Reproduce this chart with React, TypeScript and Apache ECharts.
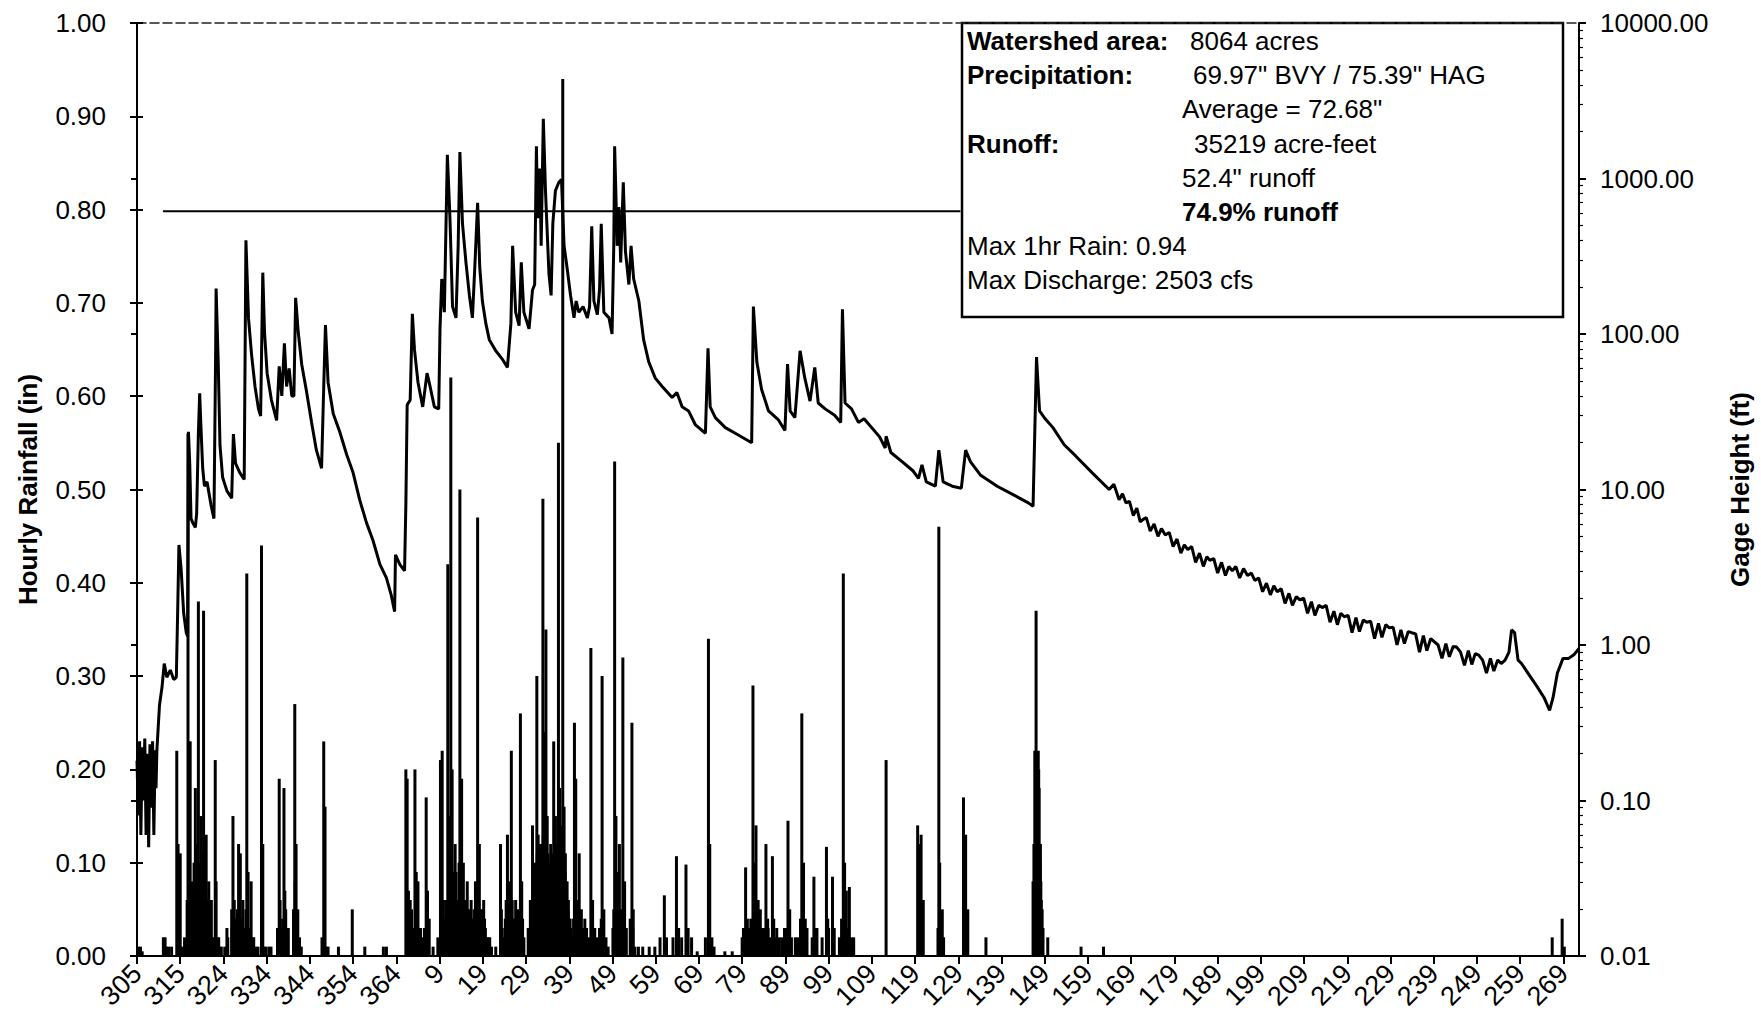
import React, { useEffect, useRef } from "react";
import * as echarts from "echarts";

const FONT = "'Liberation Sans', Arial, sans-serif";

// X tick labels (day of year), one every 10 days from the start of the record
const xLabels = [
  "305", "315", "324", "334", "344", "354", "364", "9", "19", "29", "39", "49",
  "59", "69", "79", "89", "99", "109", "119", "129", "139", "149", "159", "169",
  "179", "189", "199", "209", "219", "229", "239", "249", "259", "269",
];

// Days since start of record for the gage height trace
const gageDay = [
  0.0, 0.3, 0.6, 0.9, 1.2, 1.5, 1.8, 2.1, 2.4, 2.7, 3.0, 3.3, 3.6, 3.9, 4.2, 4.4,
  4.6, 5.2, 5.8, 6.3, 6.9, 7.7, 8.5, 9.1, 9.4, 9.7, 10.2, 10.8, 11.4, 11.7, 11.9,
  12.2, 12.5, 12.9, 13.5, 13.8, 14.2, 14.5, 14.8, 15.2, 15.6, 16.2, 17.1, 17.8,
  18.2, 18.3, 18.8, 19.2, 19.8, 20.8, 21.9, 22.3, 22.8, 23.8, 24.8, 25.2, 25.8,
  26.5, 27.3, 28.1, 28.6, 29.1, 29.5, 30.1, 31.1, 32.3, 32.9, 33.5, 34.1, 34.6,
  35.2, 35.8, 36.3, 36.7, 37.3, 38.1, 39.2, 40.4, 41.5, 42.7, 43.2, 43.6, 44.2,
  45.4, 46.9, 48.5, 50.0, 51.5, 53.1, 54.6, 56.2, 57.7, 58.8, 59.6, 59.8, 60.8,
  61.9, 62.2, 62.5, 63.2, 63.7, 64.2, 65.0, 66.1, 67.1, 67.8, 68.8, 69.8, 70.1,
  70.5, 71.1, 71.8, 72.4, 73.0, 73.8, 74.3, 74.7, 75.3, 76.1, 76.9, 77.6, 78.2,
  78.8, 79.3, 79.9, 80.7, 81.5, 83.0, 84.5, 85.7, 86.5, 86.9, 87.6, 88.4, 88.9,
  89.5, 90.7, 91.5, 92.0, 92.4, 92.7, 93.2, 93.5, 94.0, 94.5, 95.3, 95.8, 96.2,
  96.8, 97.6, 98.2, 98.8, 99.5, 100.3, 101.1, 101.6, 102.2, 103.2, 104.2, 104.7,
  105.2, 105.7, 106.5, 107.0, 107.4, 108.0, 109.2, 109.9, 110.3, 110.5, 111.1,
  111.5, 111.9, 112.5, 113.0, 113.8, 114.3, 114.9, 116.1, 117.2, 118.4, 119.9,
  121.5, 123.8, 124.9, 126.1, 127.6, 129.2, 131.5, 132.1, 132.6, 133.8, 136.1,
  138.4, 142.2, 142.6, 143.4, 144.5, 146.1, 148.4, 149.9, 150.5, 151.1, 152.2,
  153.4, 154.5, 155.7, 156.8, 157.6, 159.2, 161.4, 162.8, 163.2, 163.8, 165.3,
  166.9, 168.2, 171.8, 173.1, 173.3, 174.4, 177.0, 179.5, 180.8, 181.6, 182.6,
  184.7, 185.5, 186.5, 188.6, 190.7, 191.7, 192.8, 195.1, 199.0, 202.9, 206.2,
  207.3, 208.1, 208.8, 210.1, 211.9, 214.5, 217.1, 221.0, 224.9, 226.0, 227.2,
  228.0, 228.8, 229.6, 230.5, 231.3, 232.1, 232.7, 233.5, 234.4, 235.3, 236.2,
  237.0, 237.9, 238.8, 239.7, 240.6, 241.5, 242.3, 243.1, 244.0, 244.9, 245.8,
  246.7, 247.5, 248.2, 249.1, 250.0, 250.9, 251.8, 252.6, 253.4, 254.2, 255.1,
  256.0, 256.9, 257.8, 258.6, 259.5, 260.4, 261.3, 262.2, 263.0, 263.8, 264.7,
  265.6, 266.5, 267.3, 268.2, 269.0, 269.9, 270.8, 271.7, 272.5, 273.4, 274.2,
  275.1, 276.0, 276.9, 277.7, 278.5, 279.3, 280.2, 281.1, 282.0, 282.8, 283.7,
  284.5, 285.4, 286.3, 287.2, 288.0, 288.9, 289.7, 290.6, 291.5, 292.4, 293.2,
  294.1, 294.9, 295.8, 296.7, 297.6, 298.4, 299.3, 300.1, 301.0, 301.9, 302.8,
  303.6, 304.5, 305.3, 306.2, 307.1, 308.0, 308.8, 309.6, 310.4, 311.3, 312.2,
  313.1, 313.9, 314.8, 315.6, 316.5, 317.4, 318.0, 318.7, 319.5, 320.3, 322.1,
  323.9, 325.5, 326.8, 327.6, 328.6, 329.9, 331.2, 332.5, 333.6,
];

// Gage height (ft)
const gageFt = [
  0.18, 0.08, 0.24, 0.06, 0.22, 0.10, 0.25, 0.06, 0.20, 0.05, 0.23, 0.09, 0.24, 0.06, 0.21, 0.12,
  0.21, 0.41, 0.54, 0.76, 0.62, 0.69, 0.60, 0.62, 1.6, 4.4, 3.1, 1.6, 1.2, 1.14, 23.5,
  14.7, 6.5, 6.1, 5.7, 7.0, 23, 41.5, 25, 13.7, 10.5, 11.2, 8.0, 6.5,
  79, 196, 64, 19.2, 12, 9.8, 8.8, 22.7, 14.7, 12.8, 11.6, 400, 126,
  74, 46, 33, 29.7, 248, 103, 56, 37.6, 27.8, 62, 40, 87, 46,
  60, 40, 40, 171, 103, 64, 43, 26.9, 17.9, 13.7, 46, 114, 49,
  30.7, 23.5, 16.8, 12.8, 8.6, 6.1, 4.7, 3.3, 2.7, 2.1, 1.64, 3.8, 3.3,
  3.0, 8.0, 35, 37.6, 135, 79, 49, 34, 56, 46, 34, 33, 108,
  226, 138, 1420, 556, 150, 127, 369, 1480, 512, 289, 177, 127, 289,
  698, 266, 163, 117, 92, 78, 69, 61, 117, 369, 138, 113, 289,
  138, 108, 192, 208, 1610, 556, 1160, 369, 2420, 836, 245, 177, 512,
  836, 946, 986, 369, 266, 177, 127, 163, 138, 150, 127, 150,
  492, 163, 133, 192, 512, 138, 127, 100, 369, 1610, 369,
  655, 289, 946, 340, 208, 369, 226, 163, 92, 66, 52,
  46, 39, 42, 34, 32, 26, 23, 81, 34, 29, 25,
  23, 20, 150, 66, 44, 32, 28, 24, 64, 32, 29,
  78, 52, 37, 61, 36, 33, 30, 27, 144, 36, 33,
  27, 28.5, 21.8, 18.5, 22, 17.3, 15.1, 13.2, 11.8, 14.4, 11.2,
  10.5, 17.9, 11.2, 10.5, 10.2, 17.9, 15.1, 12.4, 10.5, 9.2, 8.2,
  7.8, 71, 32, 28.5, 25, 19.4, 16.5, 12.8, 10.0, 10.8, 8.6,
  9.4, 8.2, 8.4, 6.8, 7.6, 6.2, 6.4, 6.6, 5.4, 6.0, 5.0,
  5.6, 5.1, 5.3, 4.3, 4.8, 3.9, 4.4, 4.1, 4.3, 3.4, 3.9,
  3.2, 3.7, 3.5, 3.6, 2.9, 3.4, 2.8, 3.2, 3.0, 3.2, 2.7,
  3.1, 2.8, 2.9, 2.6, 2.7, 2.2, 2.5, 2.1, 2.4, 2.2, 2.3,
  1.85, 2.15, 1.8, 2.05, 1.95, 2.0, 1.6, 1.9, 1.55, 1.8, 1.74,
  1.8, 1.4, 1.65, 1.35, 1.6, 1.52, 1.55, 1.2, 1.5, 1.22, 1.45,
  1.40, 1.42, 1.1, 1.38, 1.12, 1.35, 1.29, 1.3, 1.0, 1.25, 1.02,
  1.22, 1.2, 1.18, 0.9, 1.15, 0.92, 1.1, 1.05, 1.0, 0.82, 1.02,
  0.84, 0.98, 0.97, 0.9, 0.74, 0.92, 0.75, 0.88, 0.86, 0.8, 0.66,
  0.82, 0.68, 0.8, 0.76, 0.8, 0.9, 1.25, 1.2, 0.8, 0.76, 0.64,
  0.54, 0.46, 0.38, 0.46, 0.66, 0.82, 0.82, 0.87, 0.95,
];

// Hourly rainfall, main storm bars: day since start and depth (in)
const rainDay = [
  0.3, 0.8, 1.2, 6.1, 6.5, 7.3, 9.2, 9.5, 10.0, 10.5, 11.0, 11.6, 11.8, 12.0, 12.3,
  12.6, 13.0, 13.5, 13.8, 14.2, 14.5, 14.8, 15.0, 15.4, 15.7, 16.0, 16.4, 16.6, 17.0,
  17.4, 18.1, 18.3, 18.6, 19.2, 20.8, 21.0, 21.9, 22.2, 22.5, 23.5, 23.9, 24.5, 25.0,
  25.4, 25.7, 26.4, 26.8, 28.0, 28.8, 29.1, 29.4, 30.5, 31.0, 32.5, 32.9, 33.4, 34.0,
  34.4, 35.0, 36.5, 36.8, 37.2, 37.6, 38.0, 43.2, 43.5, 43.8, 46.6, 49.8, 52.7, 57.0,
  57.7, 62.2, 62.5, 62.8, 63.2, 63.8, 64.3, 64.6, 65.0, 65.6, 66.5, 66.9, 67.2, 67.6,
  68.5, 69.6, 70.2, 70.6, 70.8, 71.2, 71.6, 71.9, 72.2, 72.6, 72.9, 73.3, 73.6, 74.0,
  74.5, 74.7, 75.1, 75.5, 75.9, 76.4, 76.8, 77.3, 77.8, 78.3, 78.8, 79.2, 79.7, 80.2,
  80.6, 81.2, 82.0, 83.0, 84.1, 84.5, 85.0, 85.4, 85.7, 86.1, 86.6, 87.0, 87.6, 88.0,
  88.7, 89.0, 89.5, 90.5, 91.0, 91.5, 91.8, 92.0, 92.5, 92.8, 93.1, 93.5, 93.9, 94.2,
  94.6, 94.9, 95.3, 95.7, 96.1, 96.4, 96.8, 97.1, 97.5, 97.8, 98.2, 98.5, 98.8, 99.1,
  99.5, 99.8, 100.2, 100.6, 101.2, 101.5, 101.9, 102.3, 102.8, 103.2, 103.6, 104.0,
  104.6, 105.0, 105.4, 105.9, 106.5, 107.0, 107.6, 108.0, 108.5, 109.0, 110.1, 110.5,
  110.8, 111.2, 111.6, 112.0, 112.4, 112.8, 113.2, 114.1, 114.5, 114.8, 115.2, 116.0,
  119.8, 122.0, 124.8, 127.0, 129.6, 132.2, 132.5, 133.0, 136.0, 137.7, 140.3, 140.8,
  141.2, 142.5, 142.8, 143.2, 143.7, 144.6, 145.5, 146.0, 147.0, 147.5, 149.2, 149.8,
  150.6, 151.0, 152.3, 153.8, 154.2, 154.6, 156.6, 157.0, 159.5, 160.0, 160.9, 163.2,
  163.4, 163.7, 164.1, 164.8, 165.3, 173.3, 180.6, 181.0, 181.4, 181.9, 185.5, 185.7,
  186.3, 191.2, 191.7, 192.2, 196.4, 207.3, 207.7, 208.0, 208.2, 208.5, 208.7, 209.0,
  209.2, 209.6, 210.7, 218.4, 223.6, 327.4, 329.7, 330.2,
];

const rainIn = [
  0.01, 0.01, 0.005, 0.02, 0.02, 0.01, 0.22, 0.12, 0.11, 0.01, 0.02, 0.06, 0.56, 0.23, 0.23,
  0.08, 0.05, 0.18, 0.12, 0.38, 0.10, 0.15, 0.06, 0.37, 0.12, 0.13, 0.06, 0.08, 0.03,
  0.02, 0.21, 0.08, 0.02, 0.01, 0.03, 0.02, 0.05, 0.15, 0.06, 0.12, 0.11, 0.06, 0.02,
  0.41, 0.09, 0.08, 0.02, 0.01, 0.44, 0.12, 0.01, 0.01, 0.01, 0.03, 0.19, 0.03, 0.18,
  0.05, 0.03, 0.27, 0.12, 0.05, 0.02, 0.01, 0.23, 0.16, 0.01, 0.01, 0.05, 0.01, 0.01,
  0.01, 0.20, 0.19, 0.07, 0.06, 0.03, 0.20, 0.09, 0.08, 0.03, 0.03, 0.17, 0.07, 0.04,
  0.01, 0.02, 0.21, 0.22, 0.06, 0.03, 0.05, 0.42, 0.15, 0.62, 0.20, 0.09, 0.12, 0.06,
  0.10, 0.50, 0.19, 0.10, 0.06, 0.08, 0.05, 0.06, 0.04, 0.08, 0.47, 0.12, 0.05, 0.06,
  0.03, 0.02, 0.01, 0.01, 0.12, 0.03, 0.02, 0.06, 0.13, 0.08, 0.22, 0.04, 0.06, 0.05,
  0.26, 0.08, 0.02, 0.03, 0.06, 0.14, 0.09, 0.10, 0.30, 0.13, 0.10, 0.12, 0.49, 0.24,
  0.35, 0.15, 0.09, 0.12, 0.11, 0.23, 0.15, 0.12, 0.55, 0.18, 0.14, 0.94, 0.16, 0.11,
  0.08, 0.06, 0.04, 0.02, 0.25, 0.19, 0.06, 0.11, 0.05, 0.03, 0.04, 0.03,
  0.02, 0.33, 0.06, 0.03, 0.02, 0.03, 0.30, 0.05, 0.02, 0.01, 0.03, 0.53,
  0.15, 0.09, 0.12, 0.05, 0.32, 0.08, 0.03, 0.04, 0.25, 0.05, 0.01, 0.01,
  0.01, 0.065, 0.107, 0.098, 0.005, 0.34, 0.12, 0.02, 0.005, 0.005, 0.03, 0.095,
  0.04, 0.29, 0.10, 0.14, 0.06, 0.03, 0.12, 0.03, 0.107, 0.02, 0.02, 0.03,
  0.145, 0.05, 0.02, 0.26, 0.10, 0.04, 0.085, 0.03, 0.117, 0.03, 0.085, 0.03,
  0.41, 0.10, 0.07, 0.074, 0.02, 0.21, 0.14, 0.12, 0.13, 0.06, 0.46, 0.10,
  0.05, 0.17, 0.13, 0.05, 0.02, 0.08, 0.22, 0.37, 0.20, 0.22, 0.18, 0.12,
  0.06, 0.03, 0.02, 0.01, 0.01, 0.02, 0.04, 0.01,
];

// Hourly rainfall, the many small hours that fill the bottom of each storm
const rainSmallDay = [
  6.8, 8.0, 12.1, 12.8, 13.2, 13.7, 14.0, 14.7, 15.2, 15.9, 16.2, 16.8, 17.2, 17.6,
  18.9, 19.5, 20.3, 22.0, 22.8, 23.2, 24.2, 24.8, 25.2, 26.0, 27.0, 27.5, 29.8,
  33.1, 33.7, 34.2, 34.7, 36.2, 36.6, 37.0, 42.8, 44.2,
  62.4, 62.9, 63.5, 64.0, 64.8, 65.3, 66.2, 67.0, 67.4,
  70.4, 70.9, 71.4, 71.8, 72.4, 72.8, 73.1, 73.4, 73.8, 74.2, 74.9, 75.3, 75.7, 76.1,
  76.6, 77.0, 77.5, 78.0, 78.6, 79.0, 79.4, 80.0, 80.4, 81.0, 81.6,
  84.3, 85.2, 85.9, 86.3, 86.8, 87.3, 87.8, 88.4, 88.9, 89.2, 91.2, 91.6, 92.2, 92.6,
  93.0, 93.3, 93.7, 94.0, 94.4, 94.8, 95.1, 95.5, 95.9, 96.3, 96.6, 97.0, 97.3, 97.7,
  98.0, 98.4, 98.7, 99.0, 99.3, 99.7, 100.0, 100.4,
  101.0, 101.4, 101.7, 102.0, 102.5, 103.0, 105.2, 105.6, 107.4, 107.8, 110.3, 110.7,
  111.0, 111.4, 111.8, 112.2, 112.6, 113.0, 114.3, 114.7,
  117.0, 118.5, 121.0, 122.5, 124.0, 125.3, 126.0, 127.5, 128.3, 131.5, 133.5,
  140.0, 141.6, 142.0, 143.9, 144.2, 145.0, 145.9, 146.5, 147.3, 148.0, 148.6, 150.2,
  151.4, 152.8, 153.5, 154.0, 155.0, 156.2, 157.3, 158.5, 159.8, 161.3, 162.5, 163.0,
  164.4, 165.8, 180.9, 181.2, 181.6, 185.3, 185.9, 186.6, 191.4, 191.9,
  207.5, 207.9, 208.1, 208.4, 208.6, 208.9, 209.1, 209.4,
];

const rainSmallIn = [
  0.01, 0.01, 0.09, 0.07, 0.10, 0.08, 0.06, 0.09, 0.11, 0.07, 0.05, 0.04, 0.06, 0.02,
  0.02, 0.01, 0.01, 0.03, 0.04, 0.05, 0.04, 0.03, 0.05, 0.03, 0.02, 0.01, 0.01,
  0.06, 0.04, 0.07, 0.03, 0.05, 0.08, 0.04, 0.02, 0.01,
  0.05, 0.04, 0.05, 0.03, 0.05, 0.03, 0.02, 0.04, 0.03,
  0.05, 0.04, 0.06, 0.05, 0.08, 0.10, 0.07, 0.05, 0.09, 0.05, 0.08, 0.06, 0.05, 0.04,
  0.05, 0.04, 0.03, 0.05, 0.06, 0.07, 0.05, 0.03, 0.04, 0.02, 0.02,
  0.05, 0.04, 0.06, 0.05, 0.06, 0.04, 0.03, 0.05, 0.06, 0.04, 0.05, 0.07, 0.09, 0.11,
  0.12, 0.09, 0.10, 0.13, 0.12, 0.10, 0.11, 0.10, 0.09, 0.10, 0.12, 0.10, 0.11, 0.12,
  0.10, 0.12, 0.10, 0.09, 0.07, 0.05, 0.04, 0.03,
  0.04, 0.05, 0.04, 0.06, 0.04, 0.03, 0.05, 0.03, 0.04, 0.03, 0.05, 0.06,
  0.05, 0.06, 0.04, 0.05, 0.04, 0.02, 0.03, 0.03,
  0.01, 0.01, 0.02, 0.02, 0.02, 0.03, 0.02, 0.03, 0.02, 0.02, 0.01,
  0.02, 0.03, 0.04, 0.03, 0.05, 0.03, 0.04, 0.02, 0.04, 0.03, 0.02, 0.03,
  0.02, 0.02, 0.04, 0.06, 0.03, 0.02, 0.03, 0.02, 0.04, 0.03, 0.02, 0.04,
  0.03, 0.02, 0.04, 0.05, 0.04, 0.03, 0.04, 0.02, 0.04, 0.03,
  0.12, 0.20, 0.18, 0.15, 0.20, 0.10, 0.08, 0.05,
];

// Reference level drawn across the early part of the record (right axis)
const refLineDay = [6.0, 190.5];
const refLineFt = [615, 615];

// Axis ranges
const leftMin = 0;
const leftMax = 1;
const leftStep = 0.1;
const rightMin = 0.01;
const rightMax = 10000;
const xMax = 333.6;

const infoLabels = [
  "Watershed area:",
  "Precipitation:",
  "",
  "Runoff:",
  "",
  "",
  "Max 1hr Rain: 0.94",
  "Max Discharge: 2503 cfs",
];
const infoValues = [
  "8064 acres",
  "69.97\" BVY / 75.39\" HAG",
  "Average = 72.68\"",
  "35219 acre-feet",
  "52.4\" runoff",
  "74.9% runoff",
  "",
  "",
];

export default function App() {
  const ref = useRef<HTMLDivElement>(null);

  useEffect(() => {
    if (!ref.current) return;
    const chart = echarts.init(ref.current, undefined, { renderer: "svg" });

    const minorLog: number[] = [];
    for (let e = -2; e < 4; e++) {
      for (let k = 2; k <= 9; k++) minorLog.push(k * Math.pow(10, e));
    }

    const left = 137;
    const right = 1583;
    const top = 23;
    const bottom = 956;

    const boxX = 962;
    const boxY = 23;
    const boxW = 601;
    const boxH = 294;
    const lineY0 = 41;
    const lineStep = 34.2;

    const textEls: any[] = [];
    infoLabels.forEach((t, i) => {
      if (!t) return;
      const bold = i < 4;
      textEls.push({
        type: "text",
        x: 967,
        y: lineY0 + i * lineStep,
        style: {
          text: t,
          fill: "#000",
          font: `${bold ? "bold " : ""}26px ${FONT}`,
          verticalAlign: "middle",
          align: "left",
        },
      });
    });
    const valueX = [1190, 1193, 1182, 1194, 1182, 1182, 0, 0];
    infoValues.forEach((t, i) => {
      if (!t) return;
      textEls.push({
        type: "text",
        x: valueX[i],
        y: lineY0 + i * lineStep,
        style: {
          text: t,
          fill: "#000",
          font: `${i === 5 ? "bold " : ""}26px ${FONT}`,
          verticalAlign: "middle",
          align: "left",
        },
      });
    });

    const axisLineStyle = { color: "#000", width: 2 };

    const rainData = rainDay
      .map((d, i) => [d, rainIn[i]])
      .concat(rainSmallDay.map((d, i) => [d, rainSmallIn[i]]));

    const option: any = {
      animation: false,
      backgroundColor: "#fff",
      grid: {
        left,
        right: 1761 - right,
        top,
        bottom: 1032 - bottom,
        containLabel: false,
      },
      xAxis: [
        {
          type: "value",
          min: 0,
          max: xMax,
          interval: 10,
          position: "bottom",
          axisLine: { show: true, onZero: false, lineStyle: axisLineStyle },
          axisTick: { show: true, inside: false, length: 8, lineStyle: { color: "#000", width: 2 } },
          splitLine: { show: false },
          axisLabel: {
            rotate: 45,
            margin: 13,
            color: "#000",
            fontSize: 27,
            fontFamily: FONT,
            showMaxLabel: false,
            formatter: (v: number) => {
              const k = v / 10;
              if (Math.abs(k - Math.round(k)) > 0.01) return "";
              return xLabels[Math.round(k)] ?? "";
            },
          },
        },
        {
          type: "value",
          min: 0,
          max: xMax,
          position: "top",
          axisLine: { show: true, onZero: false, lineStyle: { color: "#222", width: 1.5, type: [9, 4] } },
          axisTick: { show: false },
          axisLabel: { show: false },
          splitLine: { show: false },
        },
      ],
      yAxis: [
        {
          type: "value",
          position: "left",
          min: leftMin,
          max: leftMax,
          interval: leftStep,
          name: "Hourly Rainfall (in)",
          nameLocation: "middle",
          nameGap: 96,
          nameRotate: 90,
          nameTextStyle: { color: "#000", fontSize: 26, fontWeight: "bold", fontFamily: FONT },
          axisLine: { show: true, onZero: false, lineStyle: axisLineStyle },
          axisTick: { show: true, inside: false, length: 7, lineStyle: { color: "#000", width: 2 } },
          splitLine: { show: false },
          axisLabel: {
            margin: 31,
            color: "#000",
            fontSize: 26,
            fontFamily: FONT,
            formatter: (v: number) => v.toFixed(2),
          },
        },
        {
          type: "log",
          logBase: 10,
          position: "right",
          min: rightMin,
          max: rightMax,
          splitNumber: 6,
          name: "Gage Height (ft)",
          nameLocation: "middle",
          nameGap: 148,
          nameRotate: 90,
          nameTextStyle: { color: "#000", fontSize: 26, fontWeight: "bold", fontFamily: FONT },
          axisLine: { show: true, onZero: false, lineStyle: axisLineStyle },
          axisTick: { show: true, inside: false, length: 7, lineStyle: { color: "#000", width: 2 } },
          splitLine: { show: false },
          axisLabel: {
            margin: 21,
            color: "#000",
            fontSize: 26,
            fontFamily: FONT,
            formatter: (v: number) => Number(v).toFixed(2),
          },
        },
        {
          type: "value",
          position: "left",
          min: leftMin,
          max: leftMax,
          interval: leftStep,
          axisLine: { show: false },
          axisTick: { show: true, inside: true, length: 6, lineStyle: { color: "#000", width: 2 } },
          axisLabel: { show: false },
          splitLine: { show: false },
        },
        {
          type: "log",
          logBase: 10,
          position: "right",
          min: rightMin,
          max: rightMax,
          splitNumber: 6,
          axisLine: { show: false },
          axisTick: { show: true, inside: true, length: 6, lineStyle: { color: "#000", width: 2 } },
          axisLabel: { show: false },
          splitLine: { show: false },
        },
        {
          type: "log",
          logBase: 10,
          position: "right",
          min: rightMin,
          max: rightMax,
          axisLine: { show: false },
          axisTick: {
            show: true,
            inside: false,
            length: 4,
            customValues: minorLog,
            lineStyle: { color: "#000", width: 1.2 },
          },
          axisLabel: { show: false },
          splitLine: { show: false },
        },
      ],
      series: [
        {
          type: "bar",
          name: "Rainfall",
          xAxisIndex: 0,
          yAxisIndex: 0,
          barWidth: 3,
          barGap: "-100%",
          itemStyle: { color: "#000" },
          data: rainData,
          z: 2,
        },
        {
          type: "line",
          name: "Gage",
          xAxisIndex: 0,
          yAxisIndex: 1,
          showSymbol: false,
          symbol: "none",
          lineStyle: { color: "#000", width: 3 },
          data: gageDay.map((d, i) => [d, gageFt[i]]),
          z: 3,
        },
        {
          type: "line",
          name: "Reference",
          xAxisIndex: 0,
          yAxisIndex: 1,
          showSymbol: false,
          symbol: "none",
          lineStyle: { color: "#000", width: 2 },
          data: refLineDay.map((d, i) => [d, refLineFt[i]]),
          z: 3,
        },
      ],
      graphic: [
        {
          type: "group",
          z: 100,
          children: [
            {
              type: "rect",
              shape: { x: boxX, y: boxY, width: boxW, height: boxH },
              style: { fill: "#fff", stroke: "#000", lineWidth: 2.5 },
            },
            ...textEls,
          ],
        },
      ],
    };

    chart.setOption(option);
    return () => chart.dispose();
  }, []);

  return (
    <div
      ref={ref}
      style={{ position: "fixed", left: 0, top: 0, width: 1761, height: 1032, background: "#fff" }}
    />
  );
}
